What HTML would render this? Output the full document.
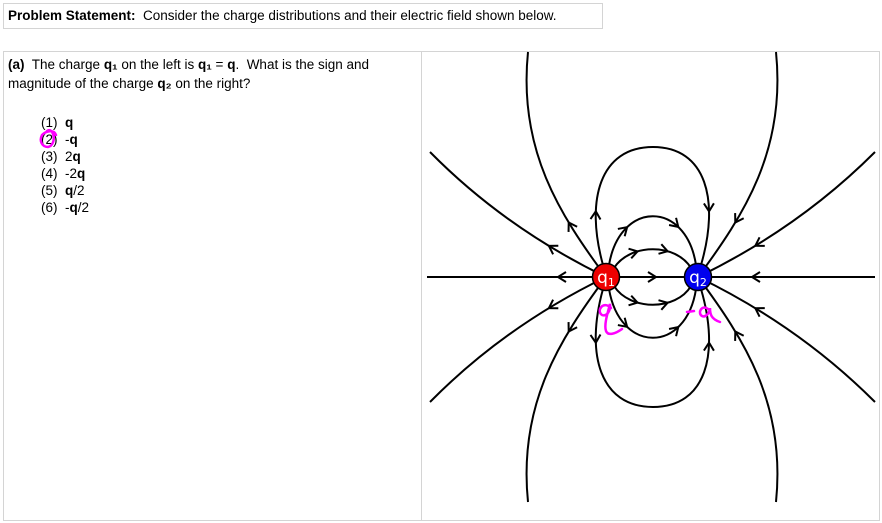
<!DOCTYPE html>
<html><head><meta charset="utf-8"><style>
body{margin:0;width:882px;height:523px;background:#fff;font-family:"Liberation Sans",sans-serif;position:relative;overflow:hidden}
.box{position:absolute;border:1px solid #d4d4d4;box-sizing:border-box}
.t{position:absolute;font-size:13.5px;color:#000;white-space:nowrap}
b{font-weight:bold}
</style></head><body>
<div class="box" style="left:3px;top:3px;width:600px;height:26px"></div>
<div class="t" style="left:8px;top:8px"><b>Problem Statement:</b>&nbsp; Consider the charge distributions and their electric field shown below.</div>
<div class="box" style="left:3px;top:51px;width:419px;height:470px"></div>
<div class="box" style="left:421px;top:51px;width:459px;height:470px"></div>
<div class="t" style="left:8px;top:57px"><b>(a)</b>&nbsp; The charge <b>q₁</b> on the left is <b>q₁</b> = <b>q</b>.&nbsp; What is the sign and</div>
<div class="t" style="left:8px;top:76px">magnitude of the charge <b>q₂</b> on the right?</div>
<div class="t" style="left:41px;top:114px;line-height:17px">(1)&nbsp; <b>q</b><br>(2)&nbsp; -<b>q</b><br>(3)&nbsp; 2<b>q</b><br>(4)&nbsp; -2<b>q</b><br>(5)&nbsp; <b>q</b>/2<br>(6)&nbsp; -<b>q</b>/2</div>
<svg id="s" width="882" height="523" style="position:absolute;left:0;top:0">
<g id="lines" fill="none" stroke="#000" stroke-width="2"></g>
<g fill="none" stroke="#000" stroke-width="2">
<line x1="427" y1="277" x2="875" y2="277"/>
<polyline points="-8,-5 0,0 -8,5" transform="translate(558,277) rotate(180)"/>
<polyline points="-8,-5 0,0 -8,5" transform="translate(656,277)"/>
<polyline points="-8,-5 0,0 -8,5" transform="translate(752,277) rotate(180)"/>
</g>
<circle cx="606" cy="277" r="13.5" fill="#e00" stroke="#000" stroke-width="1.5"/>
<circle cx="698" cy="277" r="13.5" fill="#00e" stroke="#000" stroke-width="1.5"/>
<text x="606" y="283" fill="#fff" font-size="17" text-anchor="middle" font-family="DejaVu Sans, sans-serif">q<tspan font-size="11" dy="3">1</tspan></text>
<text x="698" y="283" fill="#fff" font-size="17" text-anchor="middle" font-family="DejaVu Sans, sans-serif">q<tspan font-size="11" dy="3">2</tspan></text>
<g fill="none" stroke="#f0f" stroke-width="2.5" stroke-linecap="round">
<path d="M611,308 C603,300 596,311 602,315 C607,317 611,310 610,304 C607,315 604,325 606,331 C608,336 615,334 622,329"/>
<path d="M687,312 L694,311 M708,309 C702,304 697,313 702,316 C706,318 710,312 710,308 C710,314 711,319 720,322"/>
<path d="M56,135 C54,129 46,131 42,135 C39,141 42,147 48,147 C53,146 55,139 53,134 C52,131 50,129 47,131"/>
</g>
</svg>
<script>
var defs=[
["M606,277 Q505,228 430,152",[[0.3,1]]],
["M606,277 C560,215 518,150 528,52",[[0.27,1]]],
["M603,265 C585,200 600,147 653,147 C706,147 720,200 701,265",[[0.18,1],[0.82,1]]],
["M609,265 C620,200 686,200 696,265",[[0.3,1],[0.7,1]]],
["M614,268 C630,243 676,243 691,268",[[0.33,1],[0.67,1]]],
["M698,277 C744,215 786,150 776,52",[[0.27,-1]]],
["M698,277 Q799,228 875,152",[[0.3,-1]]]
];
var ns="http://www.w3.org/2000/svg",g=document.getElementById("lines");
defs.forEach(function(d){
 [false,true].forEach(function(m){
  var p=document.createElementNS(ns,"path");p.setAttribute("d",d[0]);
  if(m)p.setAttribute("transform","translate(0,554) scale(1,-1)");
  g.appendChild(p);
  var L=p.getTotalLength();
  d[1].forEach(function(a){
   var s=a[0]*L,p1=p.getPointAtLength(s),p2=p.getPointAtLength(s+1);
   var x=p1.x,y=p1.y,dx=p2.x-p1.x,dy=p2.y-p1.y;
   if(m){y=554-y;dy=-dy;}
   if(a[1]<0){dx=-dx;dy=-dy;}
   var ang=Math.atan2(dy,dx)*180/Math.PI;
   var c=document.createElementNS(ns,"polyline");
   c.setAttribute("points","-8,-5 0,0 -8,5");
   c.setAttribute("transform","translate("+x+","+y+") rotate("+ang+")");
   g.appendChild(c);
  });
 });
});
</script>
</body></html>
